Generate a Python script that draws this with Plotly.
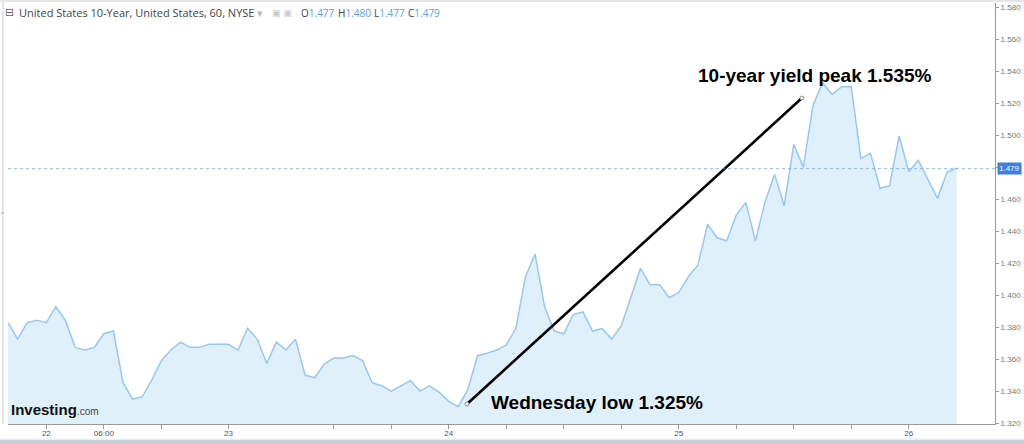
import plotly.graph_objects as go

# ---------------- data ----------------
yields = [1.3827, 1.3725, 1.3827, 1.3842, 1.3827, 1.3927, 1.3840, 1.3673, 1.3656, 1.3673,
          1.3758, 1.3775, 1.3452, 1.3350, 1.3364, 1.3469, 1.3589, 1.3656, 1.3706, 1.3673,
          1.3673, 1.3692, 1.3692, 1.3692, 1.3656, 1.3792, 1.3725, 1.3573, 1.3706, 1.3656,
          1.3723, 1.3500, 1.3483, 1.3569, 1.3606, 1.3606, 1.3621, 1.3590, 1.3452, 1.3433,
          1.3400, 1.3433, 1.3465, 1.3400, 1.3433, 1.3392, 1.3336, 1.3302, 1.3412, 1.3621,
          1.3636, 1.3656, 1.3688, 1.3792, 1.4114, 1.4256, 1.3927, 1.3775, 1.3758, 1.3879,
          1.3894, 1.3775, 1.3790, 1.3725, 1.3808, 1.3986, 1.4167, 1.4064, 1.4064, 1.3983,
          1.4017, 1.4114, 1.4188, 1.4442, 1.4358, 1.4339, 1.4500, 1.4579, 1.4337, 1.4583,
          1.4754, 1.4558, 1.4942, 1.4798, 1.5183, 1.5327, 1.5254, 1.5302, 1.5302, 1.4854,
          1.4885, 1.4667, 1.4683, 1.4994, 1.4771, 1.4842, 1.4723, 1.4604, 1.4769, 1.4792]
bars = list(range(len(yields)))

x_tick_pos = [4, 10, 16, 23, 34, 40, 46, 52, 58, 64, 70, 76, 82, 88, 94]
x_tick_text = ["22", "06:00", "", "23", "", "", "24", "", "", "", "25", "", "", "", "26"]
y_ticks = [1.32, 1.34, 1.36, 1.38, 1.40, 1.42, 1.44, 1.46, 1.48, 1.50, 1.52, 1.54, 1.56, 1.58]
y_tick_text = ["1.320", "1.340", "1.360", "1.380", "1.400", "1.420", "1.440", "1.460",
               "1.480", "1.500", "1.520", "1.540", "1.560", "1.580"]

last_price = 1.479
low_label = "Wednesday low 1.325%"
peak_label = "10-year yield peak 1.535%"
trend_start = (47.9, 1.3319)
trend_end = (82.85, 1.5231)
low_text_pos = (61.5, 1.3331)
peak_text_pos = (84.2, 1.5369)
ohlc = [("O", "1.477"), ("H", "1.480"), ("L", "1.477"), ("C", "1.479")]

# ---------------- layout helpers ----------------
W, H = 1024, 444
ML, MR, MT, MB = 8, 29, 3, 20
PW, PH = W - ML - MR, H - MT - MB


def px(xp):
    return (xp - ML) / PW


def py(yp):
    return (H - MB - yp) / PH


fig = go.Figure()
fig.add_trace(go.Scatter(
    x=bars, y=yields, mode="lines",
    line=dict(color="rgb(150,200,242)", width=1.5),
    fill="tozeroy", fillcolor="rgb(224,240,250)",
    hoverinfo="skip", showlegend=False,
))

# trend line
fig.add_trace(go.Scatter(
    x=[trend_start[0], trend_end[0]], y=[trend_start[1], trend_end[1]],
    mode="lines+markers",
    line=dict(color="black", width=2.6),
    marker=dict(size=4, color="white", line=dict(color="#888", width=1)),
    hoverinfo="skip", showlegend=False,
))

shapes = [
    # last price line
    dict(type="line", xref="paper", yref="y", x0=0, x1=1, y0=last_price, y1=last_price,
         line=dict(color="rgba(110,160,235,0.7)", width=1, dash="dot")),
    # top strip
    dict(type="rect", xref="paper", yref="paper", x0=px(0), x1=px(W), y0=py(2), y1=py(0),
         line=dict(width=0), fillcolor="#e4e6ea"),
    # bottom navigator strip
    dict(type="rect", xref="paper", yref="paper", x0=px(0), x1=px(W), y0=py(444), y1=py(440),
         line=dict(width=0), fillcolor="#c9ced6"),
    dict(type="rect", xref="paper", yref="paper", x0=px(0), x1=px(W), y0=py(440), y1=py(438.5),
         line=dict(width=0), fillcolor="#eceef1"),
    # left border
    dict(type="line", xref="paper", yref="paper", x0=px(3), x1=px(3), y0=py(424), y1=py(2),
         line=dict(color="#c8c8c8", width=1)),
    dict(type="line", xref="paper", yref="paper", x0=px(1), x1=px(4), y0=py(213), y1=py(213),
         line=dict(color="#aaa", width=1)),
]

annotations = [
    dict(xref="x", yref="y", x=low_text_pos[0], y=low_text_pos[1], text="<b>%s</b>" % low_label,
         showarrow=False, font=dict(family="Liberation Sans", size=19, color="black")),
    dict(xref="x", yref="y", x=peak_text_pos[0], y=peak_text_pos[1], text="<b>%s</b>" % peak_label,
         showarrow=False, font=dict(family="Liberation Sans", size=19, color="black")),
    # last price box
    dict(xref="paper", yref="y", x=px(997), y=last_price, xanchor="left", text="1.479",
         showarrow=False, bgcolor="#3e7ee6", font=dict(family="Liberation Sans", size=8, color="white"),
         borderpad=1),
    # header
    dict(xref="paper", yref="paper", x=px(3), y=py(13), xanchor="left", yanchor="middle",
         text="⊟", showarrow=False, font=dict(family="DejaVu Sans", size=11, color="#666")),
    dict(xref="paper", yref="paper", x=px(17), y=py(13), xanchor="left", yanchor="middle",
         text="United States 10-Year, United States, 60, NYSE <span style='color:#bbb'>▾</span>",
         showarrow=False, font=dict(family="Open Sans", size=11, color="#444")),
    dict(xref="paper", yref="paper", x=px(270), y=py(13), xanchor="left", yanchor="middle",
         text="▣ ▣", showarrow=False, font=dict(family="DejaVu Sans", size=9, color="#c8c8c8")),
    # logo
    dict(xref="paper", yref="paper", x=px(9), y=py(409), xanchor="left", yanchor="middle",
         text="<b>Investing</b><span style='font-size:10px;color:#444'>.com</span>",
         showarrow=False, font=dict(family="Liberation Sans", size=15, color="#111")),
]

ohlc_x = [299, 336, 372, 406]
for (lab, val), xp in zip(ohlc, ohlc_x):
    annotations.append(dict(
        xref="paper", yref="paper", x=px(xp), y=py(13), xanchor="left", yanchor="middle",
        text="%s<span style='color:#5aa0ec'>%s</span>" % (lab, val), showarrow=False,
        font=dict(family="Open Sans", size=10, color="#444")))

fig.update_layout(
    width=W, height=H,
    margin=dict(l=ML, r=MR, t=MT, b=MB, autoexpand=False),
    paper_bgcolor="white", plot_bgcolor="white",
    showlegend=False,
    shapes=shapes, annotations=annotations,
    xaxis=dict(range=[0, 103], showgrid=False, zeroline=False,
               tickmode="array", tickvals=x_tick_pos, ticktext=x_tick_text,
               ticks="outside", ticklen=4, tickcolor="#999",
               ticklabelstandoff=-3,
               showline=True, linecolor="#999", linewidth=1,
               tickfont=dict(family="Liberation Sans Narrow, Liberation Sans", size=8, color="#555")),
    yaxis=dict(range=[1.3194, 1.5825], side="right", showgrid=False, zeroline=False,
               tickmode="array", tickvals=y_ticks, ticktext=y_tick_text,
               ticks="outside", ticklen=3, tickcolor="#999",
               showline=True, linecolor="#999", linewidth=1,
               tickfont=dict(family="Liberation Sans", size=8, color="#777")),
)

fig.write_html("out.html", config={"displayModeBar": False},
               post_script="document.body.style.margin='0';document.body.style.padding='0';"
                           "document.body.style.overflow='hidden';")
